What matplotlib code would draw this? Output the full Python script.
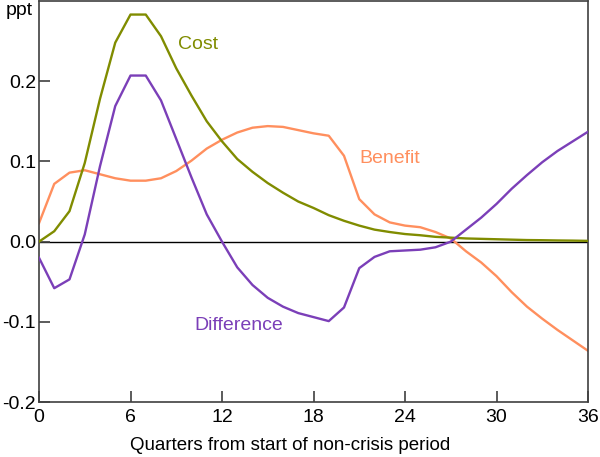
import numpy as np
import matplotlib.pyplot as plt

plt.rcParams['font.family'] = ['Liberation Sans', 'DejaVu Sans']

quarters = np.arange(37)

cost = [0.000, 0.013, 0.038, 0.098, 0.178, 0.248, 0.283, 0.283, 0.256, 0.216,
        0.182, 0.150, 0.125, 0.103, 0.087, 0.073, 0.061, 0.050, 0.042, 0.033,
        0.026, 0.020, 0.015, 0.012, 0.0095, 0.008, 0.006, 0.005, 0.004, 0.0035,
        0.003, 0.0025, 0.002, 0.0018, 0.0015, 0.0013, 0.001]

benefit = [0.023, 0.072, 0.086, 0.089, 0.084, 0.079, 0.076, 0.076, 0.079, 0.088,
           0.101, 0.116, 0.127, 0.136, 0.142, 0.144, 0.143, 0.139, 0.135, 0.132,
           0.107, 0.053, 0.034, 0.024, 0.020, 0.018, 0.012, 0.004, -0.012, -0.026,
           -0.043, -0.063, -0.081, -0.096, -0.110, -0.123, -0.136]

difference = [-0.020, -0.058, -0.047, 0.009, 0.094, 0.169, 0.207, 0.207, 0.176, 0.128,
              0.080, 0.034, 0.000, -0.032, -0.054, -0.070, -0.081, -0.089, -0.094, -0.099,
              -0.082, -0.033, -0.019, -0.012, -0.011, -0.010, -0.007, 0.000, 0.015, 0.030,
              0.047, 0.066, 0.083, 0.099, 0.113, 0.125, 0.137]

cost_col = '#808c00'
benefit_col = '#ff8f5e'
diff_col = '#7b3fb8'
spine_col = '#404040'

fig = plt.figure(figsize=(6, 4.57), dpi=100)
ax = fig.add_axes([0.065, 0.12, 0.915, 0.878])

ax.axhline(0, color='black', lw=1, zorder=1)
ax.plot(quarters, cost, color=cost_col, lw=1.7, zorder=3)
ax.plot(quarters, benefit, color=benefit_col, lw=1.7, zorder=2)
ax.plot(quarters, difference, color=diff_col, lw=1.7, zorder=4)

ax.text(10.4, 0.246, 'Cost', color=cost_col, fontsize=14, ha='center', va='center')
ax.text(23.0, 0.104, 'Benefit', color=benefit_col, fontsize=14, ha='center', va='center')
ax.text(13.1, -0.105, 'Difference', color=diff_col, fontsize=14, ha='center', va='center')

ax.set_xlim(0, 36)
ax.set_ylim(-0.2, 0.3)
ax.set_xticks(np.arange(0, 37, 6))
ax.set_yticks([-0.2, -0.1, 0.0, 0.1, 0.2])
ax.set_yticklabels(['-0.2', '-0.1', '0.0', '0.1', '0.2'])
ax.tick_params(direction='in', length=8, width=1.2, color=spine_col, labelsize=14,
               top=False, right=False, pad=5)
ax.tick_params(axis='y', pad=2)
for s in ax.spines.values():
    s.set_color(spine_col)
    s.set_linewidth(1.2)

ax.set_xlabel('Quarters from start of non-crisis period', fontsize=13.5)
ax.xaxis.set_label_coords(0.457, -0.088)
ax.text(-0.012, 0.975, 'ppt', transform=ax.transAxes, fontsize=14, ha='right', va='center')

fig.savefig('out.png', dpi=100)
